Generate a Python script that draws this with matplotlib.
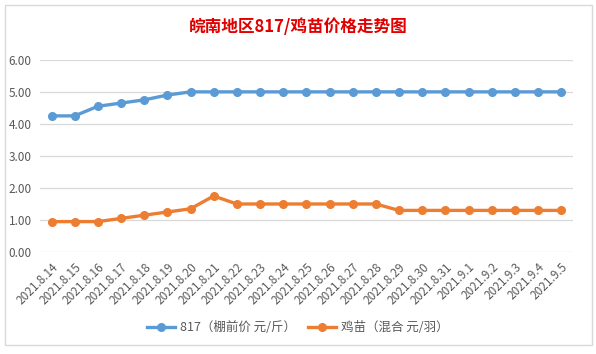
import matplotlib
matplotlib.use("Agg")
import matplotlib.pyplot as plt
from matplotlib.patches import Rectangle

plt.rcParams['font.family'] = ['Noto Sans CJK SC', 'DejaVu Sans']

dates = ["2021.8.14", "2021.8.15", "2021.8.16", "2021.8.17", "2021.8.18", "2021.8.19",
         "2021.8.20", "2021.8.21", "2021.8.22", "2021.8.23", "2021.8.24", "2021.8.25",
         "2021.8.26", "2021.8.27", "2021.8.28", "2021.8.29", "2021.8.30", "2021.8.31",
         "2021.9.1", "2021.9.2", "2021.9.3", "2021.9.4", "2021.9.5"]
price_817 = [4.25, 4.25, 4.55, 4.65, 4.75, 4.9, 5.0, 5.0, 5.0, 5.0, 5.0, 5.0,
             5.0, 5.0, 5.0, 5.0, 5.0, 5.0, 5.0, 5.0, 5.0, 5.0, 5.0]
price_chick = [0.95, 0.95, 0.95, 1.05, 1.15, 1.25, 1.35, 1.75, 1.5, 1.5, 1.5, 1.5,
               1.5, 1.5, 1.5, 1.3, 1.3, 1.3, 1.3, 1.3, 1.3, 1.3, 1.3]
yticks = [0, 1, 2, 3, 4, 5, 6]

fig = plt.figure(figsize=(5.96, 3.54), dpi=100)
fig.patch.set_facecolor("white")
# chart border like the Excel chart frame
fig.patches.append(Rectangle((0.008, 0.025), 0.985, 0.96, transform=fig.transFigure,
                             fill=False, edgecolor="#d9d9d9", linewidth=1))

ax = fig.add_axes([0.067, 0.288, 0.894, 0.543])
x = list(range(len(dates)))
ax.plot(x, price_817, color="#5B9BD5", linewidth=2.4, marker="o", markersize=5.5,
        label="817（棚前价 元/斤）")
ax.plot(x, price_chick, color="#ED7D31", linewidth=2.4, marker="o", markersize=5.5,
        label="鸡苗（混合 元/羽）")

ax.set_xlim(-0.5, len(dates) - 0.5)
ax.set_ylim(0, 6)
ax.set_yticks(yticks)
ax.set_yticklabels(["%.2f" % v for v in yticks], fontsize=8.5, color="#595959")
ax.set_xticks(x)
ax.set_xticklabels(dates, rotation=45, ha="right", rotation_mode="anchor",
                   fontsize=8.5, color="#595959")
ax.tick_params(length=0, pad=6)
ax.grid(axis="y", color="#d9d9d9", linewidth=0.9)
ax.set_axisbelow(True)
for s in ax.spines.values():
    s.set_visible(False)

fig.text(0.5, 0.925, "皖南地区817/鸡苗价格走势图", ha="center", va="center",
         fontsize=12, fontweight="bold", color="#E00000")

fig.legend(loc="center", bbox_to_anchor=(0.5, 0.075), ncol=2, frameon=False,
           fontsize=9, labelcolor="#595959", handlelength=2.2, handletextpad=0.4,
           columnspacing=1.0)

fig.savefig("out.png", dpi=100)
